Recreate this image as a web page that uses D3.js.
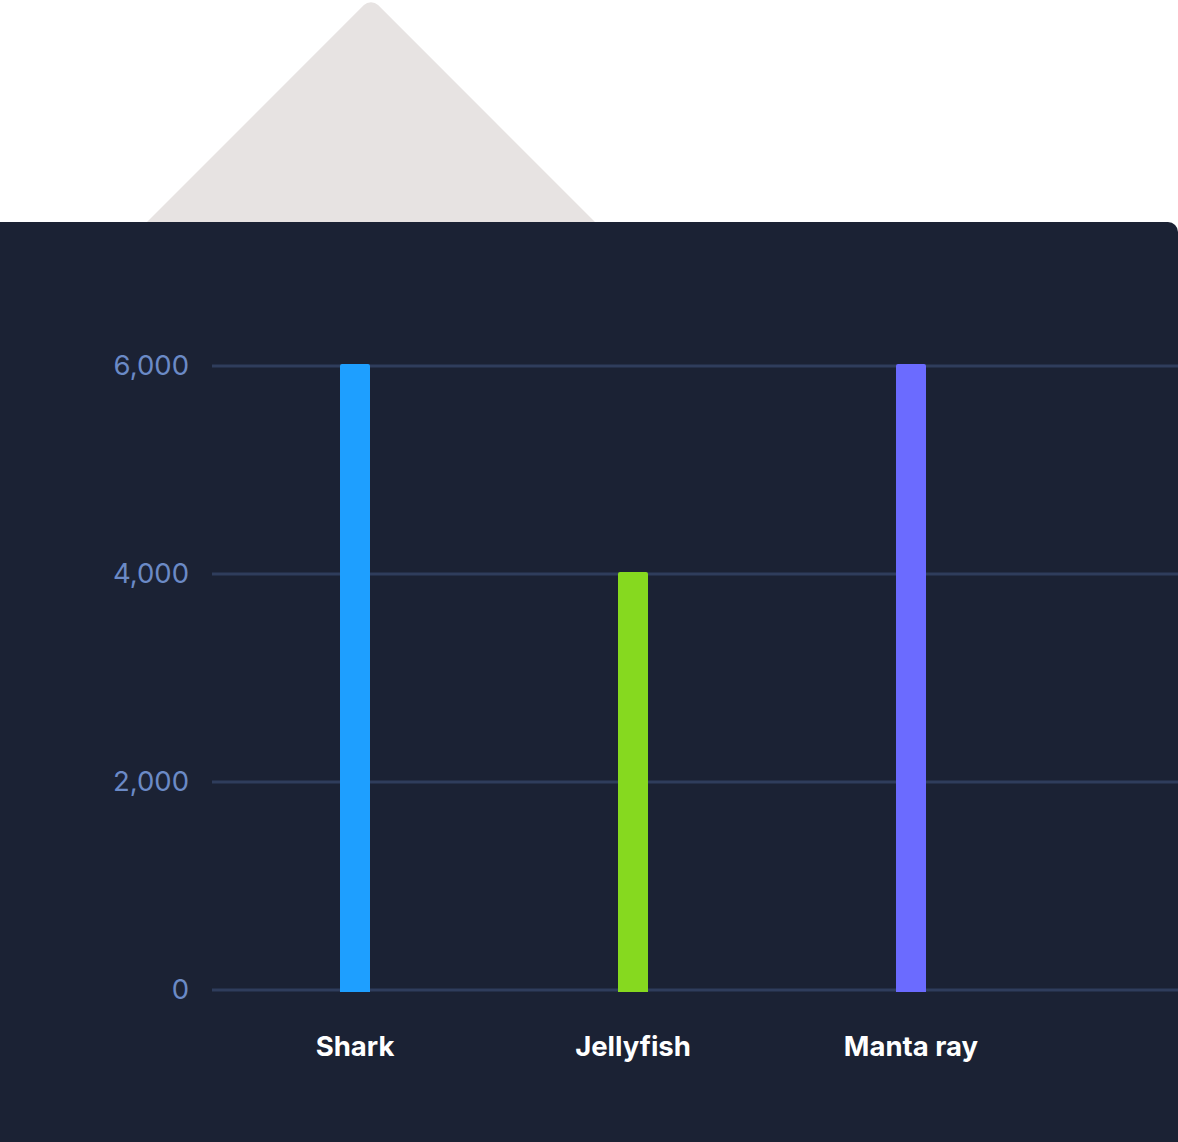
<!DOCTYPE html>
<html>
<head>
<meta charset="utf-8">
<script src="https://cdn.jsdelivr.net/npm/d3@7"></script>
<style>
  html, body { margin: 0; padding: 0; background: #ffffff; }
  svg { display: block; }
</style>
</head>
<body>
<svg id="chart" width="1178" height="1142"></svg>
<script>
// ---- data ----
const categories = ["Shark", "Jellyfish", "Manta ray"];
const values = [6000, 4000, 6000];
const barColors = ["#1E9FFF", "#86D91F", "#6B6BFF"];
const yTicks = [0, 2000, 4000, 6000];

// ---- layout ----
const W = 1178, H = 1142;
const svg = d3.select("#chart");

// decorative diamond behind the panel
const dSide = 420;
svg.append("rect")
  .attr("x", -dSide / 2).attr("y", -dSide / 2)
  .attr("width", dSide).attr("height", dSide)
  .attr("rx", 10)
  .attr("fill", "#E7E3E2")
  .attr("transform", `translate(371, ${dSide / Math.SQRT2 - 2}) rotate(45)`);

// dark panel
svg.append("rect")
  .attr("x", -20).attr("y", 222)
  .attr("width", W + 20).attr("height", H - 222 + 20)
  .attr("rx", 10)
  .attr("fill", "#1B2234");

const plotLeft = 212, plotRight = W;
const y = d3.scaleLinear().domain([0, 6000]).range([990, 366]);
const x = d3.scalePoint().domain(categories).range([216, 1050]).padding(0.5);

// gridlines
svg.append("g").selectAll("line").data(yTicks).join("line")
  .attr("x1", plotLeft).attr("x2", plotRight)
  .attr("y1", d => y(d)).attr("y2", d => y(d))
  .attr("stroke", "#2F3D5C").attr("stroke-width", 3);

// y tick labels
svg.append("g").selectAll("text").data(yTicks).join("text")
  .attr("x", 189).attr("y", d => y(d))
  .attr("dy", "0.33em")
  .attr("text-anchor", "end")
  .attr("font-family", "Inter, 'Noto Sans', sans-serif")
  .attr("font-size", 27.5)
  .attr("fill", "#6B8AC6")
  .text(d => d3.format(",")(d));

// bars
const barW = 30;
const rows = categories.map((c, i) => ({ c, v: values[i], col: barColors[i] }));
svg.append("g").selectAll("path").data(rows).join("path")
  .attr("fill", d => d.col)
  .attr("d", d => {
    const x0 = x(d.c) - barW / 2, x1 = x(d.c) + barW / 2;
    const yt = y(d.v) - 2, yb = y(0) + 2, r = 2;
    return `M${x0},${yb}V${yt + r}Q${x0},${yt} ${x0 + r},${yt}H${x1 - r}Q${x1},${yt} ${x1},${yt + r}V${yb}Z`;
  });

// category labels
svg.append("g").selectAll("text").data(categories).join("text")
  .attr("x", d => x(d)).attr("y", 1056)
  .attr("text-anchor", "middle")
  .attr("font-family", "Inter, 'Noto Sans', sans-serif")
  .attr("font-weight", 700)
  .attr("font-size", 27.5)
  .attr("fill", "#FFFFFF")
  .text(d => d);
</script>
</body>
</html>
